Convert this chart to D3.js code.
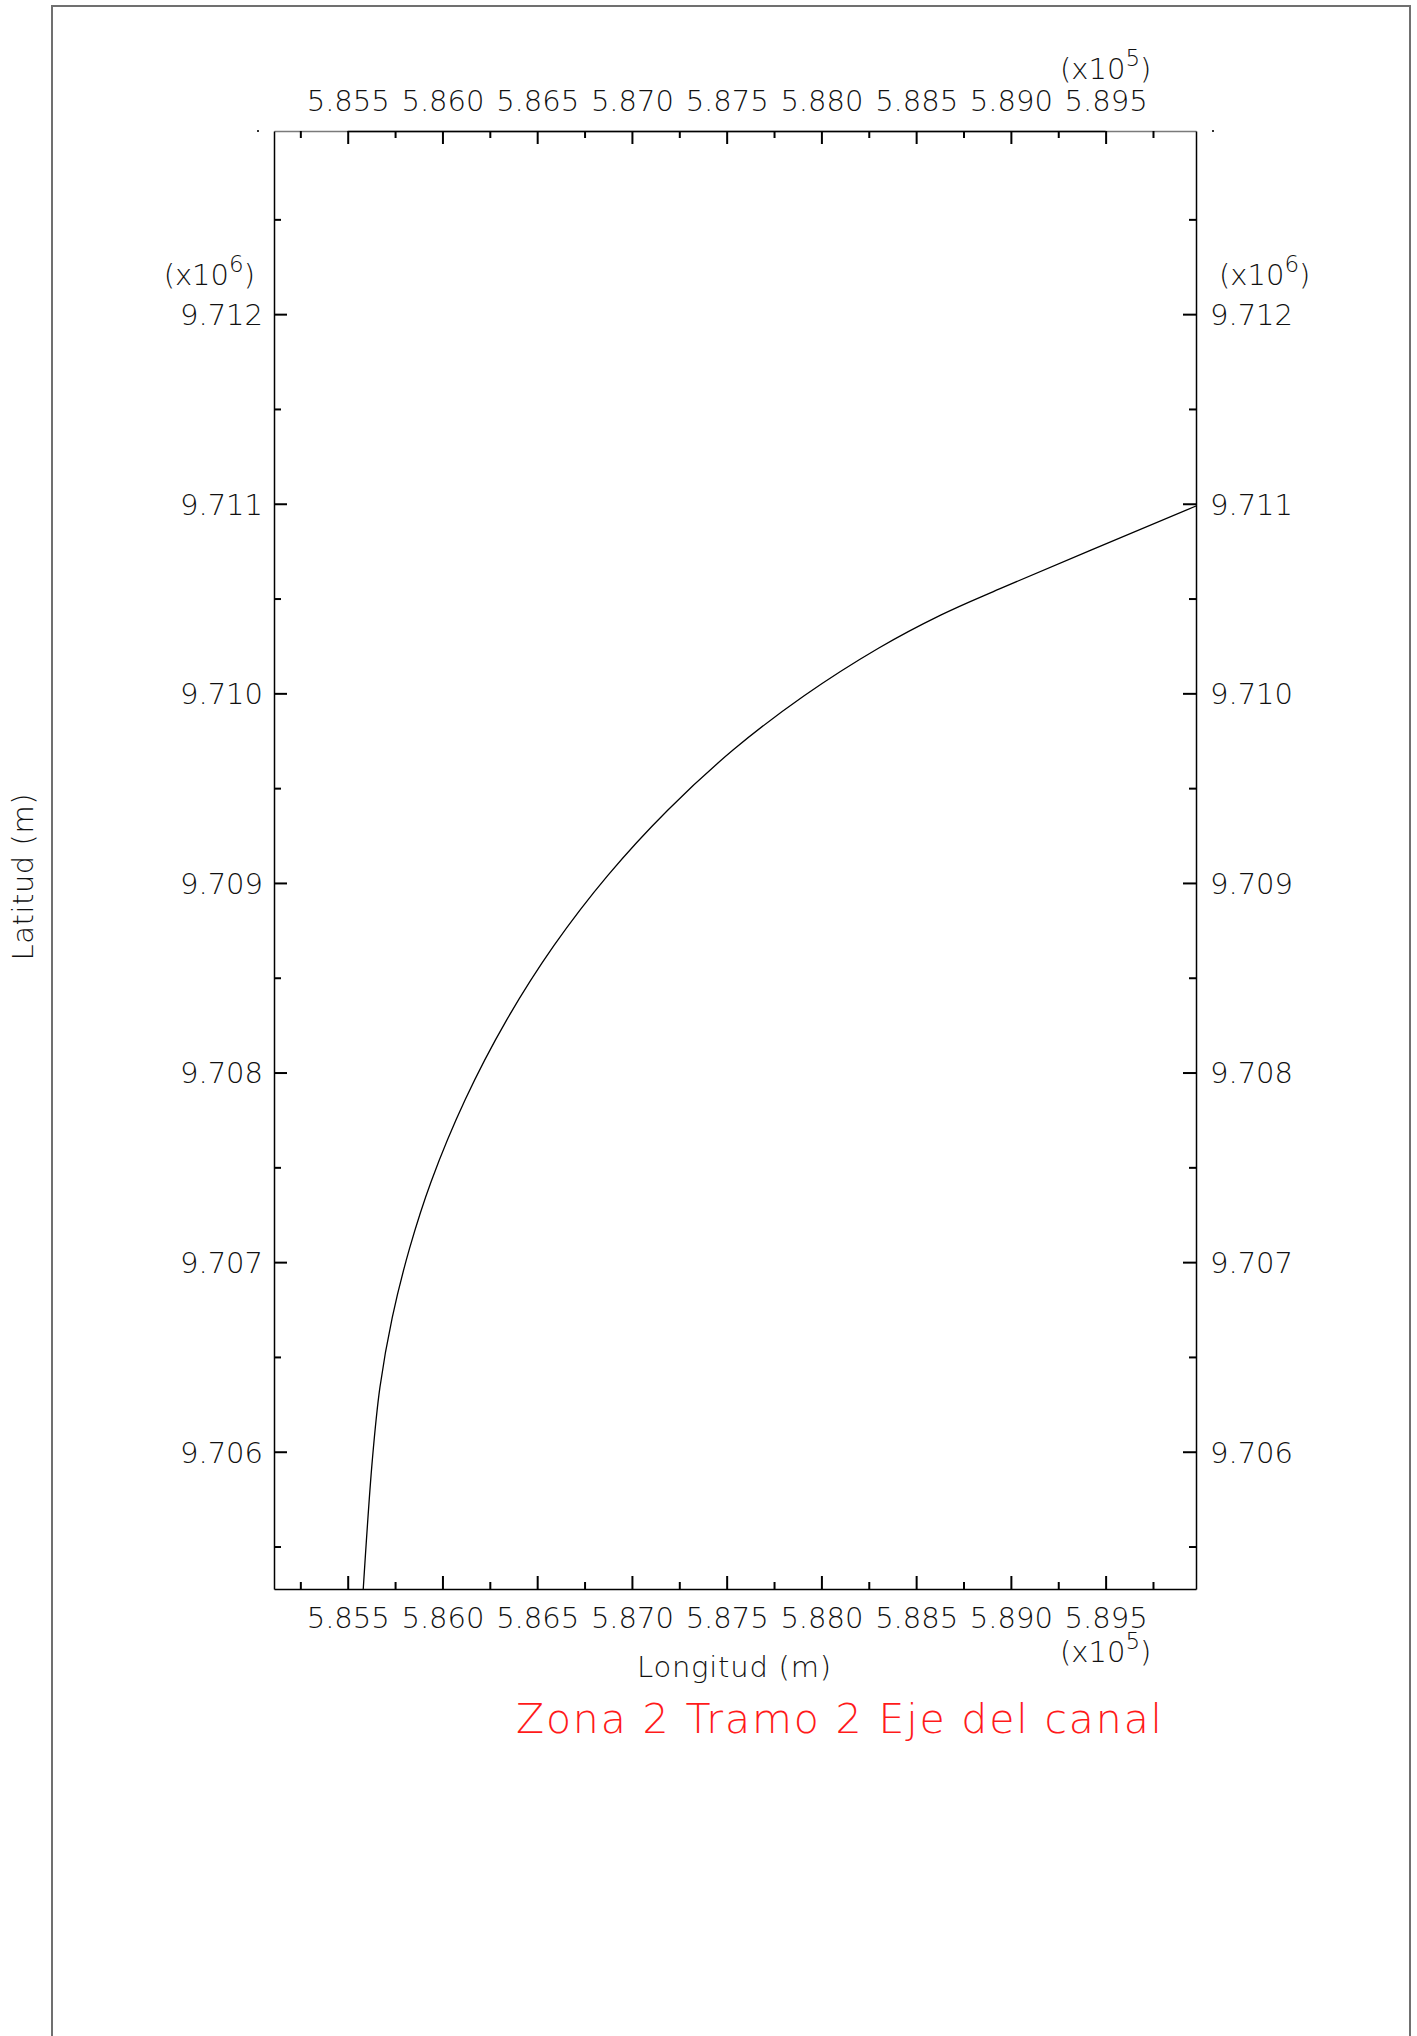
<!DOCTYPE html>
<html>
<head>
<meta charset="utf-8">
<script src="https://cdn.jsdelivr.net/npm/d3@7"></script>
<style>
  html, body { margin: 0; padding: 0; background: #fff; }
  svg { display: block; }
</style>
</head>
<body>
<svg id="chart"></svg>
<script>
// ---------------- data ----------------
const lonValues = [585582, 585630, 585670, 585735, 585826, 585941, 586121, 586337, 586588, 586873,
                   587190, 587535, 587907, 588301, 588632, 588940, 589977];
const latValues = [9705276, 9705957, 9706339, 9706707, 9707071, 9707427, 9707859, 9708274, 9708669, 9709040,
                   9709385, 9709702, 9709986, 9710238, 9710414, 9710551, 9710988];
const xDomain = [585111, 589977];
const yDomain = [9705276, 9712966];
const xMajorTicks = [585500, 586000, 586500, 587000, 587500, 588000, 588500, 589000, 589500];
const xTickLabels = ["5.855", "5.860", "5.865", "5.870", "5.875", "5.880", "5.885", "5.890", "5.895"];
const xMinorTicks = [585250, 585750, 586250, 586750, 587250, 587750, 588250, 588750, 589250, 589750];
const yMajorTicks = [9706000, 9707000, 9708000, 9709000, 9710000, 9711000, 9712000];
const yTickLabels = ["9.706", "9.707", "9.708", "9.709", "9.710", "9.711", "9.712"];
const yMinorTicks = [9705500, 9706500, 9707500, 9708500, 9709500, 9710500, 9711500, 9712500];
const xMultiplier = "5";
const yMultiplier = "6";
const xTitle = "Longitud (m)";
const yTitle = "Latitud (m)";
const chartTitle = "Zona 2 Tramo 2 Eje del canal";

// ---------------- layout ----------------
const W = 1417, H = 2036;
const FONT = "'DejaVu Sans', 'Liberation Sans', sans-serif";
const TEXT = "#111";
const plot = { left: 274, right: 1196, top: 131, bottom: 1589 };

const svg = d3.select("#chart").attr("width", W).attr("height", H);
svg.append("rect").attr("width", W).attr("height", H).attr("fill", "#fff");

// outer frame (left, top, right)
svg.append("path")
  .attr("d", `M52,${H} L52,6 L1410,6 L1410,${H}`)
  .attr("fill", "none").attr("stroke", "#707070").attr("stroke-width", 2);

const x = d3.scaleLinear().domain(xDomain).range([plot.left, plot.right]);
const y = d3.scaleLinear().domain(yDomain).range([plot.bottom, plot.top]);

const xLabel = d => xTickLabels[xMajorTicks.indexOf(d)];
const yLabel = d => yTickLabels[yMajorTicks.indexOf(d)];

function styleAxis(g, domainColor) {
  g.attr("font-family", FONT).attr("font-size", 29).attr("font-weight", 200);
  g.selectAll("text").attr("fill", TEXT);
  g.selectAll(".tick line").attr("stroke", "#000").attr("stroke-width", 2);
  g.select(".domain").attr("stroke", domainColor || "#000").attr("stroke-width", 1.5);
}
function minorAxis(axis, transform) {
  const g = svg.append("g").attr("transform", transform)
    .call(axis.tickSize(-7).tickSizeOuter(0).tickFormat(() => ""));
  g.select(".domain").remove();
  g.selectAll(".tick line").attr("stroke", "#000").attr("stroke-width", 2);
}

// bottom
svg.append("g").attr("transform", `translate(0,${plot.bottom})`)
  .call(d3.axisBottom(x).tickValues(xMajorTicks).tickFormat(xLabel).tickSize(-13).tickSizeOuter(0).tickPadding(18))
  .call(g => styleAxis(g));
minorAxis(d3.axisBottom(x).tickValues(xMinorTicks), `translate(0,${plot.bottom})`);

// top
const topG = svg.append("g").attr("transform", `translate(0,${plot.top})`)
  .call(d3.axisTop(x).tickValues(xMajorTicks).tickFormat(xLabel).tickSize(-13).tickSizeOuter(0).tickPadding(20))
  .call(g => styleAxis(g, "#7a7a7a"));
topG.append("line")
  .attr("x1", x(xMajorTicks[0])).attr("x2", x(xMajorTicks[xMajorTicks.length - 1]))
  .attr("y1", 0.5).attr("y2", 0.5).attr("stroke", "#000").attr("stroke-width", 1.5);
minorAxis(d3.axisTop(x).tickValues(xMinorTicks), `translate(0,${plot.top})`);

// left
svg.append("g").attr("transform", `translate(${plot.left},0)`)
  .call(d3.axisLeft(y).tickValues(yMajorTicks).tickFormat(yLabel).tickSize(-13).tickSizeOuter(0).tickPadding(11))
  .call(g => styleAxis(g))
  .call(g => g.selectAll("text").attr("dy", "0.36em"));
minorAxis(d3.axisLeft(y).tickValues(yMinorTicks), `translate(${plot.left},0)`);

// right
svg.append("g").attr("transform", `translate(${plot.right},0)`)
  .call(d3.axisRight(y).tickValues(yMajorTicks).tickFormat(yLabel).tickSize(-13).tickSizeOuter(0).tickPadding(14))
  .call(g => styleAxis(g))
  .call(g => g.selectAll("text").attr("dy", "0.36em"));
minorAxis(d3.axisRight(y).tickValues(yMinorTicks), `translate(${plot.right},0)`);

// small corner marks
[[plot.left - 16, plot.top], [plot.right + 17, plot.top]].forEach(([cx, cy]) => {
  svg.append("rect").attr("x", cx - 1).attr("y", cy - 1).attr("width", 2).attr("height", 2).attr("fill", "#333");
});

// multiplier labels
function multiplier(xPos, yPos, exp, anchor) {
  const t = svg.append("text").attr("x", xPos).attr("y", yPos)
    .attr("font-family", FONT).attr("font-size", 29).attr("font-weight", 200)
    .attr("fill", TEXT).attr("text-anchor", anchor || "start");
  t.append("tspan").text("(x10");
  t.append("tspan").attr("dy", -13).attr("font-size", 23).text(exp);
  t.append("tspan").attr("dy", 13).text(")");
}
multiplier(1060, 79, xMultiplier);
multiplier(1060, 1662, xMultiplier);
multiplier(255, 285, yMultiplier, "end");
multiplier(1219, 285, yMultiplier);

// axis titles
svg.append("text").attr("x", 734).attr("y", 1677).attr("text-anchor", "middle")
  .attr("font-family", FONT).attr("font-size", 29).attr("font-weight", 200).attr("fill", TEXT)
  .attr("textLength", 194).attr("lengthAdjust", "spacing")
  .text(xTitle);
svg.append("text").attr("transform", "translate(33,877) rotate(-90)").attr("text-anchor", "middle")
  .attr("font-family", FONT).attr("font-size", 29).attr("font-weight", 200).attr("fill", TEXT)
  .attr("textLength", 167).attr("lengthAdjust", "spacing")
  .text(yTitle);

// chart title
svg.append("text").attr("x", 516).attr("y", 1733)
  .attr("font-family", FONT).attr("font-size", 41).attr("font-weight", 200).attr("fill", "#ff1a1a")
  .attr("textLength", 646).attr("lengthAdjust", "spacing")
  .text(chartTitle);

// curve (canal axis)
const pts = lonValues.map((v, i) => [v, latValues[i]]);
const line = d3.line().x(d => x(d[0])).y(d => y(d[1])).curve(d3.curveCatmullRom.alpha(0.5));
svg.append("path").datum(pts).attr("d", line)
  .attr("fill", "none").attr("stroke", "#000").attr("stroke-width", 1.3);
</script>
</body>
</html>
